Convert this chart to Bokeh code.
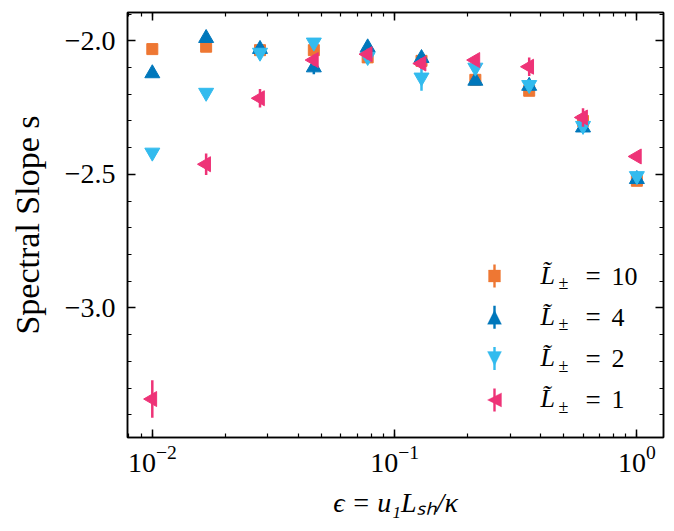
import numpy as np
from bokeh.plotting import figure
from bokeh.models import (LogAxis, LinearAxis, SingleIntervalTicker, LogTicker,
                          CustomJSTickFormatter, ColumnDataSource, Range1d,
                          Label, PolyAnnotation, BoxAnnotation)
from bokeh.embed import file_html
from bokeh.resources import INLINE

# ---- data ----
eps = [0.01, 0.01668, 0.02783, 0.04642, 0.07743, 0.12915, 0.21544, 0.35938, 0.59948, 1.0]

s_L10 = [-2.031, -2.022, -2.035, -2.035, -2.062, -2.075, -2.146, -2.187, -2.300, -2.524]
e_L10 = [0.010, 0.010, 0.010, 0.012, 0.010, 0.012, 0.010, 0.012, 0.015, 0.015]
s_L4 = [-2.122, -1.990, -2.031, -2.100, -2.025, -2.065, -2.150, -2.169, -2.325, -2.518]
e_L4 = [0.010, 0.015, 0.015, 0.025, 0.020, 0.015, 0.010, 0.020, 0.015, 0.015]
s_L2 = [-2.418, -2.194, -2.044, -2.006, -2.060, -2.137, -2.100, -2.165, -2.318, -2.506]
e_L2 = [0.010, 0.010, 0.015, 0.015, 0.015, 0.050, 0.015, 0.020, 0.020, 0.015]
s_L1 = [-3.341, -2.462, -2.215, -2.072, -2.050, -2.085, -2.072, -2.097, -2.287, -2.433]
e_L1 = [0.070, 0.040, 0.035, 0.020, 0.020, 0.020, 0.015, 0.035, 0.035, 0.015]

legend_values = ["10", "4", "2", "1"]
colors = ["#EE7733", "#0077BB", "#33BBEE", "#EE3377"]
markers = ["square", "triangle", "inverted_triangle", "triangle_left"]
values = [s_L10, s_L4, s_L2, s_L1]
errors = [e_L10, e_L4, e_L2, e_L1]

FONT = "Liberation Serif"

p = figure(x_axis_type="log", x_range=Range1d(0.0079, 1.288), y_range=Range1d(-3.485, -1.894),
           width=666, height=523, output_backend="svg", toolbar_location=None,
           min_border_left=127, min_border_right=3, min_border_top=12, min_border_bottom=86,
           background_fill_color="white", border_fill_color="white")
p.xgrid.visible = False
p.ygrid.visible = False
p.outline_line_color = "black"
p.outline_line_width = 1.5

for s, e, color, marker in zip(values, errors, colors, markers):
    s = np.array(s)
    e = np.array(e)
    src = ColumnDataSource(dict(x=eps, y=s, lo=s - e, hi=s + e))
    p.segment(x0="x", y0="lo", x1="x", y1="hi", source=src, line_color=color, line_width=2.5)
    if marker == "square":
        kw = dict(marker="square", size=11)
    elif marker == "triangle_left":
        kw = dict(marker="triangle", angle=np.pi / 2, size=15)
    else:
        kw = dict(marker=marker, size=15)
    p.scatter(x="x", y="y", source=src, fill_color=color, line_color=color, line_width=1, **kw)

# axes styling
p.yaxis.ticker = SingleIntervalTicker(interval=0.5, num_minor_ticks=5)
p.yaxis.formatter = CustomJSTickFormatter(code="return tick.toFixed(1).replace('-', '\u2212');")
p.xaxis.ticker = LogTicker(num_minor_ticks=10)

for ax in [p.xaxis[0], p.yaxis[0]]:
    ax.major_tick_in = 8
    ax.major_tick_out = 0
    ax.minor_tick_in = 4
    ax.minor_tick_out = 0
    ax.axis_line_width = 1.5
    ax.major_tick_line_width = 1.5
    ax.minor_tick_line_width = 1.2
    ax.major_label_text_font = FONT
    ax.major_label_text_font_size = "28px"
    ax.major_label_text_color = "black"
    ax.axis_label_text_font = FONT
    ax.axis_label_text_color = "black"

p.yaxis.axis_label = "Spectral Slope s"
p.yaxis.axis_label_text_font_size = "34px"
p.yaxis.axis_label_text_font_style = "normal"
p.yaxis.major_label_standoff = 12
p.yaxis.axis_label_standoff = 16
p.xaxis.axis_label = "\u03f5 = u\u2081L\u209b\u2095/\u03ba"
p.xaxis.axis_label_text_font_size = "28px"
p.xaxis.axis_label_text_font_style = "italic"
p.xaxis.major_label_standoff = 8
p.xaxis.axis_label_standoff = 12

# mirrored axes (ticks only)
blank = CustomJSTickFormatter(code="return '';")
top = LogAxis(ticker=LogTicker(num_minor_ticks=10), formatter=blank)
right = LinearAxis(ticker=SingleIntervalTicker(interval=0.5, num_minor_ticks=5), formatter=blank)
for ax in [top, right]:
    ax.major_tick_in = 8
    ax.major_tick_out = 0
    ax.minor_tick_in = 4
    ax.minor_tick_out = 0
    ax.axis_line_width = 1.5
    ax.major_tick_line_width = 1.5
    ax.minor_tick_line_width = 1.2
    ax.major_label_standoff = 0
p.add_layout(top, "above")
p.add_layout(right, "right")

# ---- legend (drawn in screen units, relative to the frame) ----
LEG_X = 367.0     # marker centre
LEG_Y0 = 161.5    # first entry centre, from frame bottom
LEG_DY = 41.3     # entry pitch
TXT_X = LEG_X + 46
MS = 7.0          # marker half-size
EB = 11.5         # error bar half-length

for i, (val, color, marker) in enumerate(zip(legend_values, colors, markers)):
    cy = LEG_Y0 - i * LEG_DY
    p.add_layout(BoxAnnotation(left=LEG_X - 1.2, right=LEG_X + 1.2, bottom=cy - EB, top=cy + EB,
                               left_units="screen", right_units="screen",
                               bottom_units="screen", top_units="screen",
                               fill_color=color, fill_alpha=1, line_alpha=0, level="overlay"))
    if marker == "square":
        xs = [LEG_X - 6, LEG_X + 6, LEG_X + 6, LEG_X - 6]
        ys = [cy - 6, cy - 6, cy + 6, cy + 6]
    elif marker == "triangle":
        xs = [LEG_X - MS, LEG_X + MS, LEG_X]
        ys = [cy - MS, cy - MS, cy + MS]
    elif marker == "inverted_triangle":
        xs = [LEG_X - MS, LEG_X + MS, LEG_X]
        ys = [cy + MS, cy + MS, cy - MS]
    else:
        xs = [LEG_X + MS, LEG_X + MS, LEG_X - MS]
        ys = [cy - MS, cy + MS, cy]
    p.add_layout(PolyAnnotation(xs=xs, ys=ys, xs_units="screen", ys_units="screen",
                                fill_color=color, fill_alpha=1, line_color=color,
                                line_width=1, level="overlay"))
    p.add_layout(Label(x=TXT_X, y=cy + 1, x_units="screen", y_units="screen", text="L\u0303",
                       text_font=FONT, text_font_size="26px", text_font_style="italic",
                       text_baseline="middle", text_color="black"))
    p.add_layout(Label(x=TXT_X + 18, y=cy - 7, x_units="screen", y_units="screen", text="\u00b1",
                       text_font=FONT, text_font_size="18px",
                       text_baseline="middle", text_color="black"))
    p.add_layout(Label(x=TXT_X + 45, y=cy, x_units="screen", y_units="screen", text="=",
                       text_font=FONT, text_font_size="27px",
                       text_baseline="middle", text_color="black"))
    p.add_layout(Label(x=TXT_X + 71, y=cy, x_units="screen", y_units="screen", text=val,
                       text_font=FONT, text_font_size="26px",
                       text_baseline="middle", text_color="black"))

open("out.html", "w").write(file_html(p, INLINE))
